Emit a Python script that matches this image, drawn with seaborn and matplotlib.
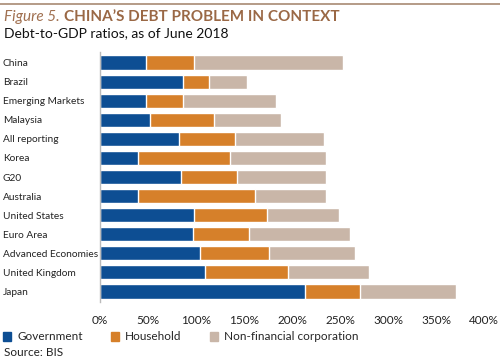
import numpy as np
import pandas as pd
import matplotlib
matplotlib.use("Agg")
import matplotlib.pyplot as plt
import seaborn as sns
from matplotlib.patches import Patch
from matplotlib.lines import Line2D

sns.set_theme(style="white")
plt.rcParams['font.family'] = ['Lato', 'DejaVu Sans']

# Data (debt as % of GDP)
countries = ["China", "Brazil", "Emerging Markets", "Malaysia", "All reporting",
             "Korea", "G20", "Australia", "United States", "Euro Area",
             "Advanced Economies", "United Kingdom", "Japan"]
government = [47.6, 86.8, 47.6, 52.0, 82.3, 39.2, 84.4, 40.0, 97.9, 97.2, 104.2, 109.7, 213.2]
household = [50.3, 26.7, 38.9, 66.8, 58.7, 96.2, 58.3, 121.5, 76.4, 57.7, 72.2, 86.3, 57.6]
nonfin_corp = [154.9, 39.5, 97.2, 69.4, 92.7, 99.6, 92.7, 73.9, 74.3, 105.5, 89.5, 83.9, 99.7]
xticks = [0, 50, 100, 150, 200, 250, 300, 350, 400]

C_GOV = "#0D4E93"
C_HH = "#D6802A"
C_NFC = "#C9B6A8"

df = pd.DataFrame({"Country": countries, "Government": government,
                   "Household": household, "NFC": nonfin_corp})
df["gov_hh"] = df["Government"] + df["Household"]
df["total"] = df["gov_hh"] + df["NFC"]

fig = plt.figure(figsize=(5, 3.6), dpi=100)
ax = fig.add_axes([0.2, 1 - 302 / 360, 0.768, 250 / 360])

# stacked bars: draw cumulative totals back to front
sns.barplot(data=df, x="total", y="Country", color=C_NFC, orient="h",
            width=0.74, saturation=1, ax=ax)
sns.barplot(data=df, x="gov_hh", y="Country", color=C_HH, orient="h",
            width=0.74, saturation=1, ax=ax)
sns.barplot(data=df, x="Government", y="Country", color=C_GOV, orient="h",
            width=0.74, saturation=1, ax=ax)

ax.set_xlim(0, 400)
ax.set_ylim(12.55, -0.55)
ax.set_xticks(xticks)
ax.set_xticklabels([f"{t}%" for t in xticks], fontsize=8.5, color="#222222")
ax.set_xlabel("")
ax.set_ylabel("")
ax.set_yticks(range(len(countries)))
ax.set_yticklabels(countries, fontsize=7.3, color="#222222", ha="left")
ax.tick_params(axis="y", length=0, pad=70)
ax.tick_params(axis="x", length=0, pad=9)
for s in ["top", "right", "bottom"]:
    ax.spines[s].set_visible(False)
ax.spines["left"].set_color("#BBBBBB")
ax.spines["left"].set_linewidth(1)

# header
fig.add_artist(Line2D([0, 1], [1 - 3.5 / 360] * 2, color="#A88A73", lw=1.2,
                      transform=fig.transFigure))
t1 = fig.text(0.008, 1 - 17 / 360, "Figure 5.", fontsize=11, style="italic",
              color="#A07050", va="center")
fig.canvas.draw()
bb = t1.get_window_extent()
fig.text((bb.x1 + 4) / 500, 1 - 17 / 360, "CHINA\u2019S DEBT PROBLEM IN CONTEXT",
         fontsize=11, fontweight="bold", color="#9A6845", va="center")
fig.text(0.008, 1 - 33 / 360, "Debt-to-GDP ratios, as of June 2018",
         fontsize=10, color="#111111", va="center")

# legend
handles = [Patch(color=C_GOV, label="Government"),
           Patch(color=C_HH, label="Household"),
           Patch(color=C_NFC, label="Non-financial corporation")]
fig.legend(handles=handles, loc="center left", bbox_to_anchor=(0.006, 1 - 337 / 360),
           ncol=3, frameon=False, fontsize=8.5, handlelength=0.7, handleheight=0.7,
           handletextpad=0.5, columnspacing=2.4, borderaxespad=0, borderpad=0)
fig.text(0.008, 1 - 352 / 360, "Source: BIS", fontsize=8.5, color="#222222", va="center")

fig.savefig("out.png", dpi=100)
